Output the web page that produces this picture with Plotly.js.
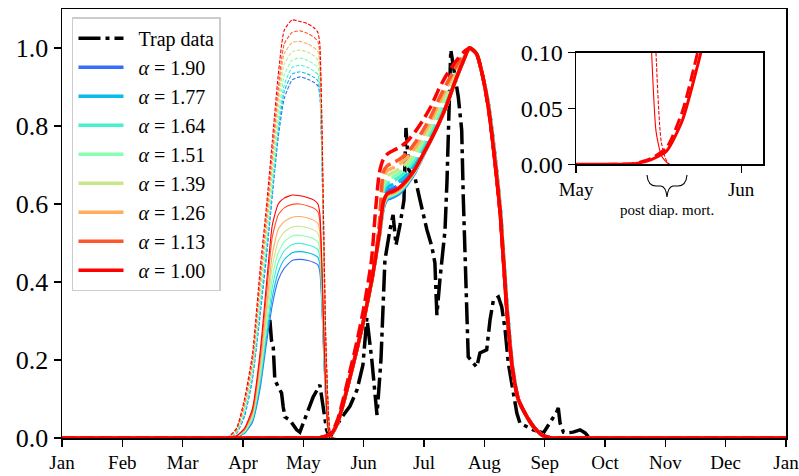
<!DOCTYPE html>
<html>
<head>
<meta charset="utf-8">
<script src="https://cdn.plot.ly/plotly-3.0.1.min.js"></script>
<style>html,body{margin:0;padding:0;background:#fff;}#chart{width:799px;height:476px;}</style>
</head>
<body>
<div id="chart"></div>
<script>
// ---------------- data (day-of-year on x, normalised abundance on y) ----------------
const monthLabels = ['Jan','Feb','Mar','Apr','May','Jun','Jul','Aug','Sep','Oct','Nov','Dec','Jan'];
const insetTickDays = [119, 150];
const insetTickLabels = ['May', 'Jun'];
const alphaLabels = ['1.90','1.77','1.64','1.51','1.39','1.26','1.13','1.00'];
const alphaColors = ['rgb(56,109,249)','rgb(8,189,233)','rgb(71,240,209)','rgb(135,255,176)',
                     'rgb(199,231,137)','rgb(255,172,92)','rgb(255,87,44)','rgb(255,0,0)'];

// Trap data
const trapDay = [104.8,105.6,106.5,107.3,109.0,110.7,111.5,112.4,114.9,118.3,119.9,123.3,126.6,130.0,130.9,132.5,133.4,135.0,
  140.1,145.2,148.7,151.7,153.7,156.2,158.8,160.8,162.8,165.3,166.9,168.4,170.4,172.4,173.4,174.9,178.0,180.5,184.0,186.5,
  188.0,188.5,189.0,190.5,193.1,194.1,195.3,196.0,199.8,201.5,202.3,203.2,204.0,204.8,207.4,209.1,210.7,214.1,215.8,217.5,
  220.0,221.7,223.4,225.0,226.7,229.3,230.9,237.5,242.7,246.0,249.4,250.2,251.1,252.8,254.5,257.7,261.2,263.7,265.4];
const trapVal = [0.303,0.251,0.233,0.149,0.131,0.115,0.08,0.054,0.046,0.021,0.015,0.064,0.105,0.136,0.105,0.064,0.021,0.0,
  0.046,0.082,0.123,0.187,0.308,0.20,0.059,0.20,0.456,0.533,0.572,0.495,0.546,0.61,0.795,0.687,0.667,0.61,0.533,0.49,
  0.449,0.38,0.315,0.405,0.533,0.66,0.874,0.995,0.874,0.79,0.618,0.449,0.277,0.208,0.192,0.182,0.218,0.226,0.303,0.354,
  0.362,0.336,0.277,0.192,0.141,0.064,0.038,0.021,0.013,0.038,0.067,0.077,0.038,0.015,0.013,0.015,0.021,0.013,0.003];

// First (spring) peak, thin lines
const thinDay = [0,80,84,88,92,96,100,103,106,109,112,116,120,124,127,129,130,131,132,133,134,135,136.5,365];
const thinSolid190 = [0,0,0,.003,.012,.04,.13,.24,.34,.405,.435,.455,.458,.455,.45,.444,.425,.34,.2,.09,.022,.006,0,0];
const thinSolid177 = [0,0,0,.003,.013,.044,.14,.255,.36,.425,.457,.475,.478,.475,.47,.463,.444,.352,.207,.093,.023,.006,0,0];
const thinSolid164 = [0,0,.0002,.003,.015,.048,.152,.27,.385,.45,.48,.496,.499,.495,.49,.483,.463,.365,.215,.097,.024,.006,0,0];
const thinSolid151 = [0,0,.0003,.004,.016,.052,.165,.29,.41,.475,.503,.518,.52,.516,.51,.503,.482,.38,.225,.10,.025,.007,0,0];
const thinSolid139 = [0,0,.0005,.004,.018,.057,.175,.31,.44,.505,.528,.541,.543,.539,.533,.525,.503,.395,.235,.105,.026,.007,0,0];
const thinSolid126 = [0,0,.001,.005,.02,.062,.19,.33,.47,.535,.555,.566,.568,.564,.558,.55,.527,.415,.245,.11,.027,.007,0,0];
const thinSolid113 = [0,0,.001,.005,.022,.068,.21,.365,.515,.572,.59,.599,.600,.595,.589,.58,.555,.435,.26,.115,.029,.008,0,0];
const thinSolid100 = [0,0,.001,.006,.025,.075,.225,.39,.545,.60,.615,.623,.621,.616,.61,.60,.575,.45,.27,.12,.03,.008,0,0];

const thinDash190 = [0,0,.001,.012,.055,.15,.32,.46,.62,.77,.87,.918,.926,.92,.912,.903,.88,.72,.46,.22,.09,.018,0,0];
const thinDash177 = [0,0,.001,.013,.06,.157,.33,.475,.632,.785,.888,.933,.939,.933,.925,.916,.89,.73,.466,.223,.091,.018,0,0];
const thinDash164 = [0,0,.001,.014,.065,.163,.345,.49,.645,.80,.905,.95,.956,.95,.941,.932,.905,.74,.475,.227,.092,.018,0,0];
const thinDash151 = [0,0,.002,.016,.071,.172,.36,.505,.665,.82,.93,.969,.974,.968,.959,.95,.92,.755,.48,.23,.094,.019,0,0];
const thinDash139 = [0,0,.002,.018,.077,.182,.38,.525,.685,.845,.958,.99,.995,.989,.98,.97,.94,.77,.49,.235,.095,.019,0,0];
const thinDash126 = [0,0,.003,.02,.082,.19,.395,.54,.705,.87,.985,1.014,1.017,1.01,1.001,.991,.96,.78,.50,.24,.097,.019,0,0];
const thinDash113 = [0,0,.003,.022,.09,.20,.415,.565,.73,.895,1.01,1.04,1.044,1.037,1.028,1.017,.985,.80,.51,.245,.098,.02,0,0];
const thinDash100 = [0,0,.004,.025,.10,.215,.44,.59,.76,.93,1.045,1.072,1.068,1.062,1.052,1.04,1.01,.82,.52,.25,.10,.02,0,0];

// Second (summer) peak, thick lines
const thickDay = [0,126,130,133,136,139,142,145,148,152,156,158,160,162,164,167,170,174,178,182,
                  186,190,194,198,202,205.5,209,212,215,218,221,224,227,230,234,238,242,246,250,365];
const thickSolid190 = [0,0,.0005,.004,.012,.04,.092,.152,.213,.30,.40,.46,.518,.590,.612,.618,.627,.651,.682,.723,
  .765,.807,.855,.912,.963,1.0,.985,.93,.855,.735,.585,.36,.188,.10,.058,.027,.008,.001,0,0];
const thickSolid177 = [0,0,.0005,.004,.012,.04,.092,.152,.213,.30,.40,.46,.519,.593,.615,.621,.630,.653,.684,.724,
  .765,.807,.855,.912,.963,1.0,.985,.93,.853,.732,.582,.357,.186,.10,.058,.027,.008,.001,0,0];
const thickSolid164 = [0,0,.0005,.004,.012,.04,.092,.152,.213,.30,.40,.46,.520,.595,.617,.623,.632,.655,.685,.725,
  .765,.807,.855,.912,.963,1.0,.985,.93,.852,.730,.580,.355,.185,.10,.058,.027,.008,.001,0,0];
const thickSolid151 = [0,0,.0005,.004,.012,.04,.092,.152,.213,.30,.40,.46,.521,.597,.619,.625,.634,.656,.686,.725,
  .765,.807,.855,.912,.963,1.0,.985,.93,.850,.728,.578,.353,.184,.10,.058,.027,.008,.001,0,0];
const thickSolid139 = [0,0,.0005,.004,.012,.04,.092,.152,.213,.30,.40,.46,.522,.599,.621,.627,.636,.658,.687,.726,
  .765,.807,.855,.912,.963,1.0,.985,.93,.849,.726,.576,.351,.183,.10,.058,.027,.008,.001,0,0];
const thickSolid126 = [0,0,.0005,.004,.012,.04,.092,.152,.213,.30,.40,.46,.523,.601,.623,.629,.638,.659,.688,.726,
  .765,.807,.855,.912,.963,1.0,.985,.93,.848,.724,.574,.349,.182,.10,.058,.027,.008,.001,0,0];
const thickSolid113 = [0,0,.0005,.004,.012,.04,.092,.152,.213,.30,.40,.46,.524,.603,.625,.631,.640,.661,.689,.727,
  .765,.807,.855,.912,.963,1.0,.985,.93,.847,.722,.572,.347,.181,.10,.058,.027,.008,.001,0,0];
const thickSolid100 = [0,0,.0005,.004,.012,.04,.092,.152,.213,.30,.40,.46,.525,.605,.627,.633,.642,.662,.690,.727,
  .765,.807,.855,.912,.963,1.0,.985,.93,.845,.720,.570,.345,.180,.10,.058,.027,.008,.001,0,0];

const thickDash190 = [0,0,.0005,.004,.012,.04,.092,.152,.213,.30,.40,.46,.527,.613,.634,.640,.649,.669,.697,.733,
  .771,.813,.860,.916,.965,1.0,.985,.93,.855,.735,.585,.36,.188,.10,.058,.027,.008,.001,0,0];
const thickDash177 = [0,0,.0005,.004,.012,.04,.092,.152,.213,.30,.40,.46,.529,.623,.643,.650,.658,.678,.705,.741,
  .779,.821,.867,.920,.967,1.0,.985,.93,.853,.732,.582,.357,.186,.10,.058,.027,.008,.001,0,0];
const thickDash164 = [0,0,.0005,.004,.012,.04,.092,.152,.213,.30,.40,.46,.532,.634,.653,.660,.669,.687,.715,.750,
  .787,.830,.875,.925,.969,1.0,.985,.93,.852,.730,.580,.355,.185,.10,.058,.027,.008,.001,0,0];
const thickDash151 = [0,0,.0005,.004,.012,.04,.092,.152,.213,.30,.40,.46,.535,.645,.663,.670,.679,.697,.724,.759,
  .796,.839,.883,.930,.972,1.0,.985,.93,.850,.728,.578,.353,.184,.10,.058,.027,.008,.001,0,0];
const thickDash139 = [0,0,.0005,.004,.012,.04,.092,.152,.213,.30,.40,.46,.540,.656,.673,.681,.689,.707,.734,.767,
  .804,.847,.890,.935,.974,1.0,.985,.93,.849,.726,.576,.351,.183,.10,.058,.027,.008,.001,0,0];
const thickDash126 = [0,0,.0005,.004,.012,.04,.092,.152,.213,.30,.40,.46,.545,.669,.686,.693,.702,.719,.745,.778,
  .814,.858,.900,.941,.977,1.0,.985,.93,.848,.724,.574,.349,.182,.10,.058,.027,.008,.001,0,0];
const thickDash113 = [0,0,.0005,.004,.012,.04,.092,.152,.213,.30,.40,.46,.550,.682,.698,.706,.714,.731,.757,.789,
  .825,.869,.909,.947,.980,1.0,.985,.93,.847,.722,.572,.347,.181,.10,.058,.027,.008,.001,0,0];
const thickDash100 = [0,0,.0008,.005,.015,.048,.104,.168,.232,.33,.455,.58,.68,.715,.728,.737,.745,.76,.785,.815,
  .85,.895,.932,.962,.987,1.0,.985,.93,.845,.720,.570,.345,.180,.10,.058,.027,.008,.001,0,0];

const thinSolidSets = [thinSolid190,thinSolid177,thinSolid164,thinSolid151,thinSolid139,thinSolid126,thinSolid113,thinSolid100];
const thinDashSets  = [thinDash190,thinDash177,thinDash164,thinDash151,thinDash139,thinDash126,thinDash113,thinDash100];
const thickSolidSets = [thickSolid190,thickSolid177,thickSolid164,thickSolid151,thickSolid139,thickSolid126,thickSolid113,thickSolid100];
const thickDashSets  = [thickDash190,thickDash177,thickDash164,thickDash151,thickDash139,thickDash126,thickDash113,thickDash100];

// ---------------- figure ----------------
const FONT = 'Liberation Serif, Times New Roman, serif';
const traces = [];

// main panel
traces.push({
  x: trapDay, y: trapVal, type: 'scatter', mode: 'lines', name: '\u00a0\u00a0Trap data',
  line: {color: 'black', width: 3.5, dash: '22px,5px,4px,5px'}, hoverinfo: 'skip'
});
for (let i = 0; i < alphaLabels.length; i++) {
  const c = alphaColors[i];
  traces.push({x: thickDay, y: thickSolidSets[i], type: 'scatter', mode: 'lines',
    name: '\u00a0\u00a0<i>α</i> = ' + alphaLabels[i],
    line: {color: c, width: 3.5, shape: 'spline', smoothing: 0.6}, hoverinfo: 'skip'});
  traces.push({x: thickDay, y: thickDashSets[i], type: 'scatter', mode: 'lines', showlegend: false,
    line: {color: c, width: 3.5, dash: '13px,5.5px', shape: 'spline', smoothing: 0.6}, hoverinfo: 'skip'});
  traces.push({x: thinDay, y: thinSolidSets[i], type: 'scatter', mode: 'lines', showlegend: false,
    line: {color: c, width: 1.1, shape: 'spline', smoothing: 0.5}, hoverinfo: 'skip'});
  traces.push({x: thinDay, y: thinDashSets[i], type: 'scatter', mode: 'lines', showlegend: false,
    line: {color: c, width: 1.1, dash: '3.7px,1.6px', shape: 'spline', smoothing: 0.5}, hoverinfo: 'skip'});
}

// inset panel: alpha = 1.00 only
const k = alphaLabels.indexOf('1.00');
traces.push({x: thickDay, y: thickSolidSets[k], xaxis: 'x2', yaxis: 'y2', type: 'scatter', mode: 'lines', showlegend: false,
  line: {color: alphaColors[k], width: 3, shape: 'spline', smoothing: 0.6}, hoverinfo: 'skip'});
traces.push({x: thickDay, y: thickDashSets[k], xaxis: 'x2', yaxis: 'y2', type: 'scatter', mode: 'lines', showlegend: false,
  line: {color: alphaColors[k], width: 3, dash: '12px,5px', shape: 'spline', smoothing: 0.6}, hoverinfo: 'skip'});
traces.push({x: thinDay, y: thinSolidSets[k], xaxis: 'x2', yaxis: 'y2', type: 'scatter', mode: 'lines', showlegend: false,
  line: {color: alphaColors[k], width: 1.1, shape: 'spline', smoothing: 0.5}, hoverinfo: 'skip'});
traces.push({x: thinDay, y: thinDashSets[k], xaxis: 'x2', yaxis: 'y2', type: 'scatter', mode: 'lines', showlegend: false,
  line: {color: alphaColors[k], width: 1.1, dash: '3.7px,1.6px', shape: 'spline', smoothing: 0.5}, hoverinfo: 'skip'});

const monthTickVals = monthLabels.map((m, i) => Math.min(i * 365 / 12, 364.999));

const axisBase = {
  showline: true, mirror: true, linecolor: 'black', linewidth: 1.5,
  ticks: 'outside', ticklen: 7, tickwidth: 1.3, tickcolor: 'black',
  showgrid: false, zeroline: false, ticklabeloverflow: 'allow'
};

const layout = {
  width: 799, height: 476,
  margin: {l: 62, r: 13, t: 9, b: 38},
  paper_bgcolor: 'white', plot_bgcolor: 'white',
  font: {family: FONT, color: 'black'},
  showlegend: true,
  xaxis: Object.assign({}, axisBase, {
    domain: [0, 1], range: [0, 365], tickvals: monthTickVals, ticktext: monthLabels,
    tickfont: {family: FONT, size: 19, color: 'black'}
  }),
  yaxis: Object.assign({}, axisBase, {
    domain: [0, 1], range: [0, 1.1], tickvals: [0, 0.2, 0.4, 0.6, 0.8, 1.0], tickformat: '.1f',
    tickfont: {family: FONT, size: 26, color: 'black'}
  }),
  xaxis2: Object.assign({}, axisBase, {
    anchor: 'y2', domain: [0.7101, 0.9686], range: [119, 154.15],
    tickvals: insetTickDays, ticktext: insetTickLabels,
    tickfont: {family: FONT, size: 19, color: 'black'}
  }),
  yaxis2: Object.assign({}, axisBase, {
    anchor: 'x2', domain: [0.638, 0.898], range: [0, 0.1],
    tickvals: [0, 0.05, 0.1], tickformat: '.2f',
    tickfont: {family: FONT, size: 24, color: 'black'}
  }),
  legend: {
    x: 0.0138, y: 0.981, xanchor: 'left', yanchor: 'top',
    bgcolor: 'rgba(255,255,255,0.85)', bordercolor: '#cccccc', borderwidth: 1.5,
    font: {family: FONT, size: 20, color: 'black'}, itemwidth: 45, tracegroupgap: 0
  },
  shapes: [
    {type: 'path', xref: 'paper', yref: 'paper', layer: 'above',
     path: 'M0.8080,0.6131 Q0.8094,0.5874 0.8204,0.5874 L0.8273,0.5874 Q0.8343,0.5851 0.8356,0.5618 ' +
           'Q0.8370,0.5851 0.8439,0.5874 L0.8508,0.5874 Q0.8619,0.5874 0.8633,0.6131',
     line: {color: 'black', width: 1.1}}
  ],
  annotations: [
    {xref: 'paper', yref: 'paper', x: 0.8356, y: 0.531, xanchor: 'center', yanchor: 'middle',
     text: 'post diap. mort.', showarrow: false,
     font: {family: FONT, size: 15, color: 'black'}}
  ]
};

Plotly.newPlot('chart', traces, layout, {displayModeBar: false, staticPlot: true});
</script>
</body>
</html>
